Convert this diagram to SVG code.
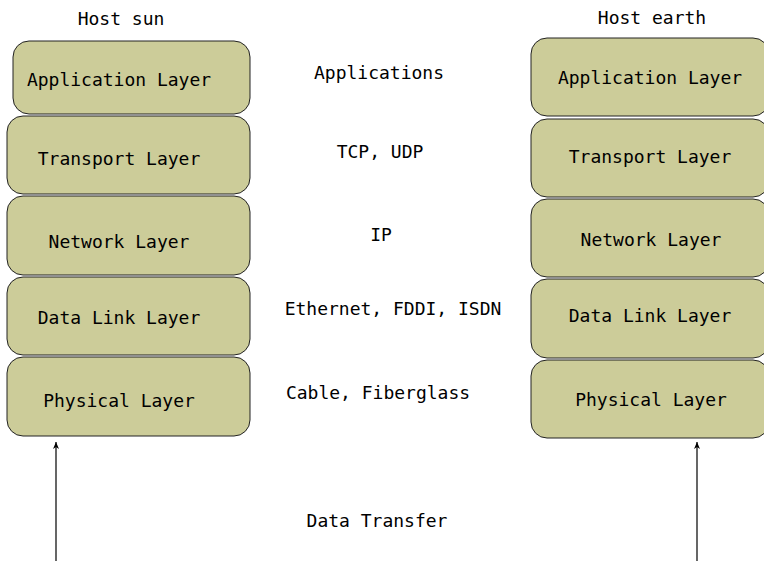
<svg xmlns="http://www.w3.org/2000/svg" width="764" height="561" viewBox="0 0 764 561">
<style>
text{font-family:"DejaVu Sans Mono","Liberation Mono",monospace;font-size:18px;fill:#000;text-anchor:middle}
.box{fill:#cccc99;stroke:#222;stroke-width:1}
.conn{stroke:#000;stroke-width:1.2;fill:none}
</style>
<defs>
<marker id="ah" markerWidth="8" markerHeight="8" refX="7" refY="4" orient="auto" markerUnits="userSpaceOnUse">
<path d="M0,1 L7,4 L0,7 L2,4 Z" fill="#000"/>
</marker>
</defs>
<text x="121" y="25">Host sun</text>
<text x="652" y="24">Host earth</text>
<g id="sun-application"><rect class="box" x="13" y="41" width="237" height="73" rx="16"/><text x="119" y="86">Application Layer</text></g>
<g id="sun-transport"><rect class="box" x="7" y="116" width="243" height="78" rx="16"/><text x="119" y="165">Transport Layer</text></g>
<g id="sun-network"><rect class="box" x="7" y="196" width="243" height="79" rx="16"/><text x="119" y="248">Network Layer</text></g>
<g id="sun-datalink"><rect class="box" x="7" y="277" width="243" height="78" rx="16"/><text x="119" y="324">Data Link Layer</text></g>
<g id="sun-physical"><rect class="box" x="7" y="357" width="243" height="79" rx="16"/><text x="119" y="407">Physical Layer</text></g>
<g id="earth-application"><rect class="box" x="531" y="38" width="238" height="78" rx="16"/><text x="650" y="84">Application Layer</text></g>
<g id="earth-transport"><rect class="box" x="531" y="119" width="238" height="78" rx="16"/><text x="650" y="163">Transport Layer</text></g>
<g id="earth-network"><rect class="box" x="531" y="199" width="238" height="78" rx="16"/><text x="651" y="246">Network Layer</text></g>
<g id="earth-datalink"><rect class="box" x="531" y="279" width="238" height="79" rx="16"/><text x="650" y="322">Data Link Layer</text></g>
<g id="earth-physical"><rect class="box" x="531" y="360" width="238" height="78" rx="16"/><text x="651" y="406">Physical Layer</text></g>
<text x="379" y="79">Applications</text>
<text x="380" y="158">TCP, UDP</text>
<text x="381" y="241">IP</text>
<text x="393" y="315">Ethernet, FDDI, ISDN</text>
<text x="378" y="399">Cable, Fiberglass</text>
<text x="377" y="527">Data Transfer</text>
<g id="connectors">
<line class="conn" x1="56" y1="561" x2="56" y2="442" marker-end="url(#ah)"/>
<line class="conn" x1="697" y1="561" x2="697" y2="442" marker-end="url(#ah)"/>
</g>
</svg>
